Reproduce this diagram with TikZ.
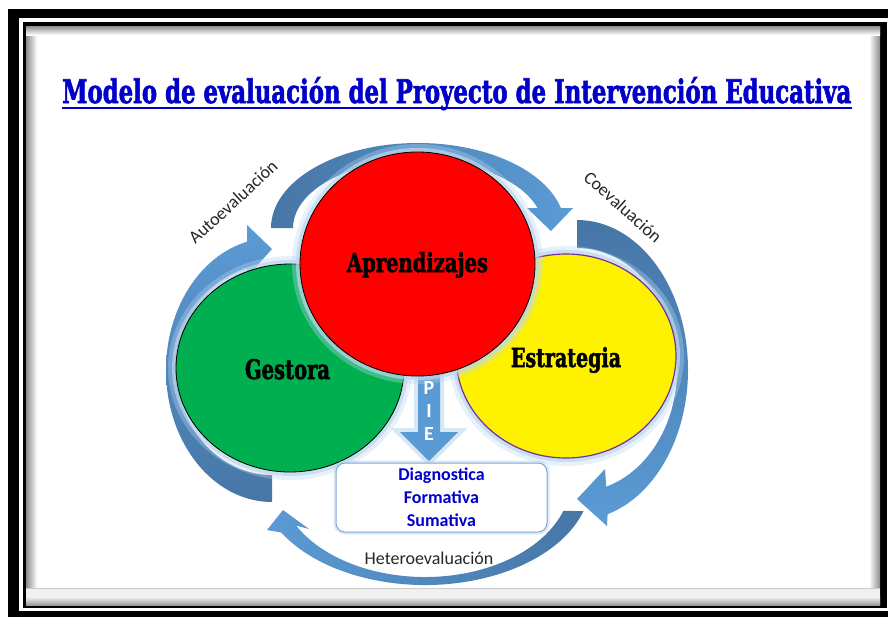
\documentclass[tikz,border=0pt]{standalone}
\usepackage{fontspec}
\usepackage{graphicx}
\usetikzlibrary{calc,shapes.geometric}
\setmainfont{Carlito}
\newfontfamily\rotulo{DejaVu Serif Condensed}[BoldFeatures={FakeBold=2}]

\definecolor{azulcla}{HTML}{5B9BD5}
\definecolor{azulosc}{HTML}{4676A6}
\definecolor{azulbrillo}{HTML}{BDD7EE}
\definecolor{azultitulo}{HTML}{0000C8}
\definecolor{azultexto}{HTML}{0000CC}
\definecolor{verde}{HTML}{00B050}
\definecolor{morado}{HTML}{7030A0}
\definecolor{bordecaja}{HTML}{7FA7D9}

\tikzset{
  circulo/.style={ellipse, inner sep=0pt,
    preaction={draw=azulbrillo, line width=16pt, opacity=0.35},
    preaction={draw=azulbrillo, line width=8pt, opacity=0.7}},
  etiqueta/.style={font=\fontsize{18}{20}\selectfont, text=black!85, inner sep=0pt},
  caja/.style={draw=bordecaja, line width=1pt, fill=white, rounded corners=9pt, minimum width=211pt,
    minimum height=69pt, align=center, text=azultexto,
    font=\fontsize{18}{23}\selectfont\bfseries,
    preaction={draw=azulbrillo, line width=5pt, opacity=0.5}}
}

\begin{document}
\begin{tikzpicture}[x=1pt,y=-1pt]
  \useasboundingbox (0,0) rectangle (888,619);

  % Marco
  \fill[black] (8,9) rectangle (900,617);
  \fill[white] (19,18) rectangle (887.5,611);
  \fill[black] (23,22) rectangle (887,608);
  \fill[white] (26,26) rectangle (880,605);
  \shade[left color=black!45, right color=white] (26,26) rectangle (37,605);
  \shade[left color=white, right color=black!45] (869,26) rectangle (880,605);
  \shade[top color=black!45, bottom color=white] (26,26) rectangle (880,35);
  \fill[black!6] (26,588) rectangle (880,605);
  \shade[top color=black!6, bottom color=black!40] (26,597) rectangle (880,605);
  \draw[black!20] (26,588) -- (880,588);

  % Titulo
  \node[anchor=base west, inner sep=0pt, text=azultitulo] (titulo) at (62,103)
    {\resizebox{789pt}{26pt}{\rotulo\bfseries Modelo de evaluación del Proyecto de Intervención Educativa}};
  \draw[azultitulo, line width=2pt] ($(titulo.base west)+(0,5)$) -- ($(titulo.base east)+(0,5)$);

  % Flechas curvas
  \coordinate (cS) at (418,228);
  \coordinate (cD) at (577,370);
  \coordinate (cI) at (272,370);
  \coordinate (cB) at (425,480);

  \shade[left color=azulosc, right color=azulcla]
    ($(cS)+(180:147 and 85)$) arc[start angle=180, end angle=346.4, x radius=147, y radius=85]
    -- (573,208) -- (551,231) -- (527,208)
    -- ($(cS)+(342.9:125 and 68)$) arc[start angle=342.9, end angle=180, x radius=125, y radius=68] -- cycle;

  \shade[top color=azulosc, bottom color=azulcla]
    ($(cD)+(270:111 and 150)$) arc[start angle=270, end angle=434, x radius=111, y radius=150]
    -- (607,526) -- (577,499) -- (605,469)
    -- ($(cD)+(433:100 and 122)$) arc[start angle=433, end angle=270, x radius=100, y radius=122] -- cycle;

  \shade[top color=azulcla, bottom color=azulosc]
    ($(cI)+(90:106 and 132)$) arc[start angle=90, end angle=256.4, x radius=106, y radius=132]
    -- (247,225) -- (272,249) -- (247,277)
    -- ($(cI)+(254.7:95 and 105)$) arc[start angle=254.7, end angle=90, x radius=95, y radius=105] -- cycle;

  \shade[left color=azulcla, right color=azulosc]
    ($(cB)+(17.2:166 and 105)$) arc[start angle=17.2, end angle=150, x radius=166, y radius=105]
    -- (267,530) -- (283,510) -- (309,529)
    -- ($(cB)+(152:146 and 97)$) arc[start angle=152, end angle=18.6, x radius=146, y radius=97] -- cycle;

  % Circulos
  \node[circulo, fill=yellow, draw=morado, line width=1.2pt, minimum width=220pt, minimum height=204pt] (estrat) at (566,356) {};
  \node[circulo, fill=verde, draw=black, line width=0.8pt, minimum width=228pt, minimum height=208pt] (gestora) at (290,368) {};

  % Flecha PIE
  \fill[azulcla, preaction={draw=azulbrillo, line width=8pt, opacity=0.6}]
    (418,372) -- (440,372) -- (440,432) -- (458,432) -- (429,461) -- (400,432) -- (418,432) -- cycle;

  \node[circulo, fill=red, draw=black, line width=0.8pt, minimum width=235pt, minimum height=224pt] (aprend) at (417.5,264) {};

  \node[align=center, text=white, font=\fontsize{20}{23}\selectfont\bfseries] (pie) at (429,411) {P\\I\\E};

  % Rotulos
  \node[anchor=base, inner sep=0pt] (taprend) at (417.5,272) {\resizebox{141pt}{20pt}{\rotulo\bfseries Aprendizajes}};
  \node[anchor=base, inner sep=0pt] (tgestora) at (287.5,379) {\resizebox{85pt}{20pt}{\rotulo\bfseries Gestora}};
  \node[anchor=base, inner sep=0pt] (testrat) at (566,367) {\resizebox{110pt}{20pt}{\rotulo\bfseries Estrategia}};

  % Caja
  \node[caja] (caja) at (441.5,497.5) {Diagnostica\\Formativa\\Sumativa};

  % Etiquetas
  \node[etiqueta, rotate=42.6] (auto) at (233,202) {Autoevaluación};
  \node[etiqueta, rotate=-42] (coev) at (623,207) {Coevaluación};
  \node[etiqueta] (hetero) at (429,558) {Heteroevaluación};
\end{tikzpicture}
\end{document}
